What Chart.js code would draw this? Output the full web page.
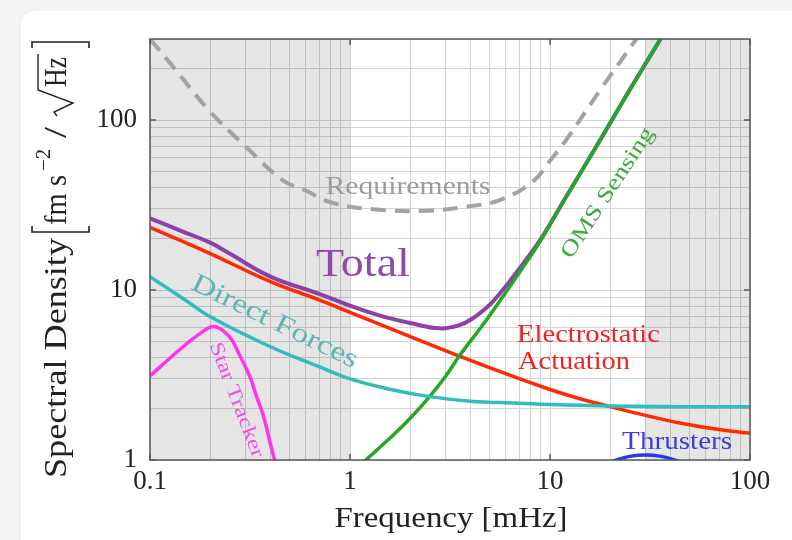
<!DOCTYPE html>
<html>
<head>
<meta charset="utf-8">
<script src="https://cdn.jsdelivr.net/npm/chart.js@4.4.1/dist/chart.umd.min.js"></script>
<style>
  html, body { margin: 0; padding: 0; background: #f4f4f4; }
  #wrap { width: 792px; height: 540px; }
</style>
</head>
<body>
<div id="wrap"><canvas id="psd" width="792" height="540"></canvas></div>
<script>
// frequencies in mHz, spectral density in fm s^-2 / sqrt(Hz)
const reqFreq = [0.1, 0.13, 0.2, 0.3, 0.46, 0.6, 0.83, 1.5, 2.5, 3.8, 5.6, 8.2, 10, 12, 17.8, 27, 30];
const reqVals = [300, 207, 112, 70, 44.4, 38.5, 32.4, 29.5, 29.3, 30.9, 33.8, 43.4, 57.6, 76, 150, 300, 360];

const totFreq = [0.1, 0.15, 0.2, 0.25, 0.4, 0.7, 1.0, 1.4, 2.0, 2.8, 3.5, 4.1, 5.0, 5.6, 7.1, 8.9, 12, 17.8, 25, 36];
const totVals = [26.4, 21.8, 19.0, 16.4, 12.0, 9.5, 8.1, 7.1, 6.4, 5.95, 6.2, 6.8, 8.2, 9.5, 13.6, 19.6, 35.2, 76.2, 150.2, 305];

const omsFreq = [1.0, 1.2, 1.6, 2.0, 2.5, 3.0, 3.55, 4.5, 5.6, 7.1, 8.9, 12, 17.8, 25, 36];
const omsVals = [0.82, 1.0, 1.36, 1.76, 2.36, 3.1, 4.15, 6.0, 8.6, 12.9, 19.2, 35, 76, 150, 305];

const esaFreq = [0.1, 0.2, 0.4, 0.7, 1.0, 1.8, 3.5, 6.8, 10, 14, 20, 30, 46, 70, 100];
const esaVals = [23.4, 16.4, 11.2, 8.76, 7.4, 5.6, 4.1, 3.05, 2.6, 2.3, 2.06, 1.83, 1.64, 1.51, 1.44];

const dfFreq = [0.1, 0.15, 0.2, 0.4, 0.7, 1.0, 1.6, 2.5, 4, 7, 10, 20, 50, 100];
const dfVals = [12.0, 8.73, 6.97, 4.64, 3.54, 3.0, 2.6, 2.36, 2.22, 2.16, 2.12, 2.08, 2.06, 2.06];

const stFreq = [0.1, 0.14, 0.18, 0.21, 0.25, 0.28, 0.316, 0.34, 0.37, 0.395, 0.42, 0.45];
const stVals = [3.12, 4.44, 5.6, 6.1, 5.3, 4.16, 3.09, 2.39, 1.8, 1.32, 1.0, 0.75];

const thFreq = [19, 21.5, 25, 30, 36, 42, 46];
const thVals = [0.95, 1.0, 1.05, 1.07, 1.05, 1.0, 0.96];

// tick labels and shaded bands (mHz)
const xTickVals = [0.1, 1, 10, 100];
const yTickVals = [1, 10, 100];
const shadedBands = [[0.1, 1], [30, 100]];

const pts = (fs, vs) => fs.map((f, i) => ({ x: f, y: vs[i] }));

function gridValues(from, to) {
    const out = [];
    for (let d = from; d < to * 1.0001; d *= 10) {
        for (let m = 1; m < 10; m++) {
            const v = +(m * d).toPrecision(3);
            if (v <= to * 1.0001) out.push(v);
        }
    }
    return out;
}
const xGrid = gridValues(0.1, 100);
const yGrid = gridValues(1, 300);

const SERIF = '"Liberation Serif", "DejaVu Serif", serif';

// text drawn into the plot, anchored at data coordinates
const plotLabels = [
    { text: 'Requirements', f: 1.95, v: 40.4, w: 165, size: 26, color: '#9b9b9b', angle: 0 },
    { text: 'Total', f: 1.16, v: 14.0, w: 94, size: 40, color: '#8e4aa6', angle: 0 },
    { text: 'Direct Forces', f: 0.42, v: 6.48, w: 182, size: 27, color: '#5db5b5', angle: 26 },
    { text: 'Star Tracker', f: 0.27, v: 2.25, w: 122, size: 20, color: '#ef52e0', angle: 69 },
    { text: 'OMS Sensing', f: 19.5, v: 37.2, w: 152, size: 22, color: '#3ea83e', angle: -56.7 },
    { text: 'Electrostatic', f: 6.84, v: 5.44, w: 143, size: 26, color: '#ee2424', angle: 0, align: 'left' },
    { text: 'Actuation', f: 6.92, v: 3.77, w: 112, size: 26, color: '#ee2424', angle: 0, align: 'left' },
    { text: 'Thrusters', f: 43.2, v: 1.28, w: 110, size: 26, color: '#3d3dd6', angle: 0 }
];

function fitText(ctx, text, x, y, width, size, color, angle, align) {
    ctx.save();
    ctx.font = size + 'px ' + SERIF;
    const w = ctx.measureText(text).width;
    ctx.translate(x, y);
    ctx.rotate((angle || 0) * Math.PI / 180);
    ctx.scale(width / w, 1);
    ctx.fillStyle = color;
    ctx.textBaseline = 'middle';
    ctx.textAlign = align || 'center';
    ctx.fillText(text, 0, 0);
    ctx.restore();
}

const decorations = {
    id: 'decorations',
    beforeDraw(chart) {
        const ctx = chart.ctx;
        ctx.save();
        ctx.fillStyle = '#f4f4f4';
        ctx.fillRect(0, 0, chart.width, chart.height);
        ctx.beginPath();
        ctx.roundRect(20, 10, 820, 600, 14);
        ctx.fillStyle = '#ffffff';
        ctx.fill();
        ctx.strokeStyle = '#ebebeb';
        ctx.lineWidth = 1;
        ctx.stroke();
        ctx.restore();
    },
    beforeDatasetsDraw(chart) {
        const { ctx, chartArea: a, scales: { x } } = chart;
        ctx.save();
        ctx.fillStyle = 'rgba(0,0,0,0.1)';
        shadedBands.forEach(([lo, hi]) => {
            const x0 = x.getPixelForValue(lo), x1 = x.getPixelForValue(hi);
            ctx.fillRect(x0, a.top, x1 - x0, a.bottom - a.top);
        });
        ctx.restore();
    },
    afterDatasetsDraw(chart) {
        const { ctx, chartArea: a, scales: { x, y } } = chart;
        ctx.save();
        // frame
        ctx.strokeStyle = '#5a5a5a';
        ctx.lineWidth = 1.5;
        ctx.strokeRect(a.left, a.top, a.right - a.left, a.bottom - a.top);
        // major tick marks on all four sides
        ctx.beginPath();
        xTickVals.forEach(v => {
            const px = x.getPixelForValue(v);
            ctx.moveTo(px, a.bottom); ctx.lineTo(px, a.bottom - 6);
            ctx.moveTo(px, a.top); ctx.lineTo(px, a.top + 6);
        });
        yTickVals.forEach(v => {
            const py = y.getPixelForValue(v);
            ctx.moveTo(a.left, py); ctx.lineTo(a.left + 6, py);
            ctx.moveTo(a.right, py); ctx.lineTo(a.right - 6, py);
        });
        ctx.stroke();
        ctx.restore();

        plotLabels.forEach(l => {
            fitText(ctx, l.text, x.getPixelForValue(l.f), y.getPixelForValue(l.v),
                l.w, l.size, l.color, l.angle, l.align);
        });

        // x title
        fitText(ctx, 'Frequency [mHz]', 451, 519, 233, 29, '#222', 0);

        // y title: Spectral Density [fm s^-2 / sqrt(Hz)]
        ctx.save();
        ctx.translate(66, 478);
        ctx.rotate(-Math.PI / 2);
        ctx.fillStyle = '#222';
        ctx.strokeStyle = '#222';
        ctx.textBaseline = 'alphabetic';
        ctx.textAlign = 'left';
        const seg = (t, x0, w, size, dy) => {
            ctx.save();
            ctx.font = size + 'px ' + SERIF;
            const mw = ctx.measureText(t).width;
            ctx.translate(x0, dy);
            ctx.scale(w / mw, 1);
            ctx.fillText(t, 0, 0);
            ctx.restore();
        };
        seg('Spectral Density', 0, 240, 31, 0);
        seg('fm s', 253, 50, 31, 0);
        seg('\u22122', 307, 22, 20, -16);
        seg('/', 340, 11, 31, 0);
        seg('Hz', 391, 30, 31, 0);
        ctx.lineWidth = 1.6;
        ctx.beginPath();
        // brackets
        ctx.moveTo(252, -34); ctx.lineTo(246, -34); ctx.lineTo(246, 23); ctx.lineTo(252, 23);
        ctx.moveTo(430, -34); ctx.lineTo(436, -34); ctx.lineTo(436, 23); ctx.lineTo(430, 23);
        ctx.stroke();
        // radical with overline
        ctx.beginPath();
        ctx.moveTo(362, -9); ctx.lineTo(366, -12); ctx.lineTo(375, 7); ctx.lineTo(388, -28); ctx.lineTo(424, -28);
        ctx.lineWidth = 1.4;
        ctx.stroke();
        ctx.restore();
    }
};

const lineSet = (label, data, color, width, extra) => Object.assign({
    label, data,
    borderColor: color,
    borderWidth: width,
    pointRadius: 0,
    fill: false,
    tension: 0.4,
    clip: 0
}, extra || {});

new Chart(document.getElementById('psd'), {
    type: 'line',
    data: {
        datasets: [
            lineSet('Requirements', pts(reqFreq, reqVals), '#a3a3a3', 4, { borderDash: [15, 9] }),
            lineSet('Thrusters', pts(thFreq, thVals), '#1f3cf0', 3.5),
            lineSet('Star Tracker', pts(stFreq, stVals), '#ff33ee', 3.5),
            lineSet('Direct Forces', pts(dfFreq, dfVals), '#2fbdbd', 3.5),
            lineSet('OMS Sensing', pts(omsFreq, omsVals), '#22a822', 3.5),
            lineSet('Electrostatic Actuation', pts(esaFreq, esaVals), '#ff2a00', 3.5),
            lineSet('Total', pts(totFreq, totVals), '#8b40aa', 4)
        ]
    },
    options: {
        responsive: false,
        animation: false,
        events: [],
        layout: { padding: { left: 0, top: 39, right: 42, bottom: 0 } },
        plugins: { legend: { display: false }, tooltip: { enabled: false } },
        scales: {
            x: {
                type: 'logarithmic',
                min: 0.1,
                max: 100,
                afterBuildTicks: s => { s.ticks = xGrid.map(v => ({ value: v })); },
                afterFit: s => { s.height = 80; },
                grid: { color: '#d3d3d3', lineWidth: 1, drawTicks: false },
                border: { display: false },
                ticks: {
                    autoSkip: false,
                    maxRotation: 0,
                    padding: 6,
                    color: '#222',
                    font: { family: SERIF, size: 27 },
                    callback: v => xTickVals.includes(v) ? String(v) : ''
                }
            },
            y: {
                type: 'logarithmic',
                min: 1,
                max: 300,
                afterBuildTicks: s => { s.ticks = yGrid.map(v => ({ value: v })); },
                afterFit: s => { s.width = 150; },
                grid: { color: '#d3d3d3', lineWidth: 1, drawTicks: false },
                border: { display: false },
                ticks: {
                    autoSkip: false,
                    padding: 13,
                    color: '#222',
                    font: { family: SERIF, size: 27 },
                    callback: v => yTickVals.includes(v) ? String(v) : ''
                }
            }
        }
    },
    plugins: [decorations]
});
</script>
</body>
</html>
